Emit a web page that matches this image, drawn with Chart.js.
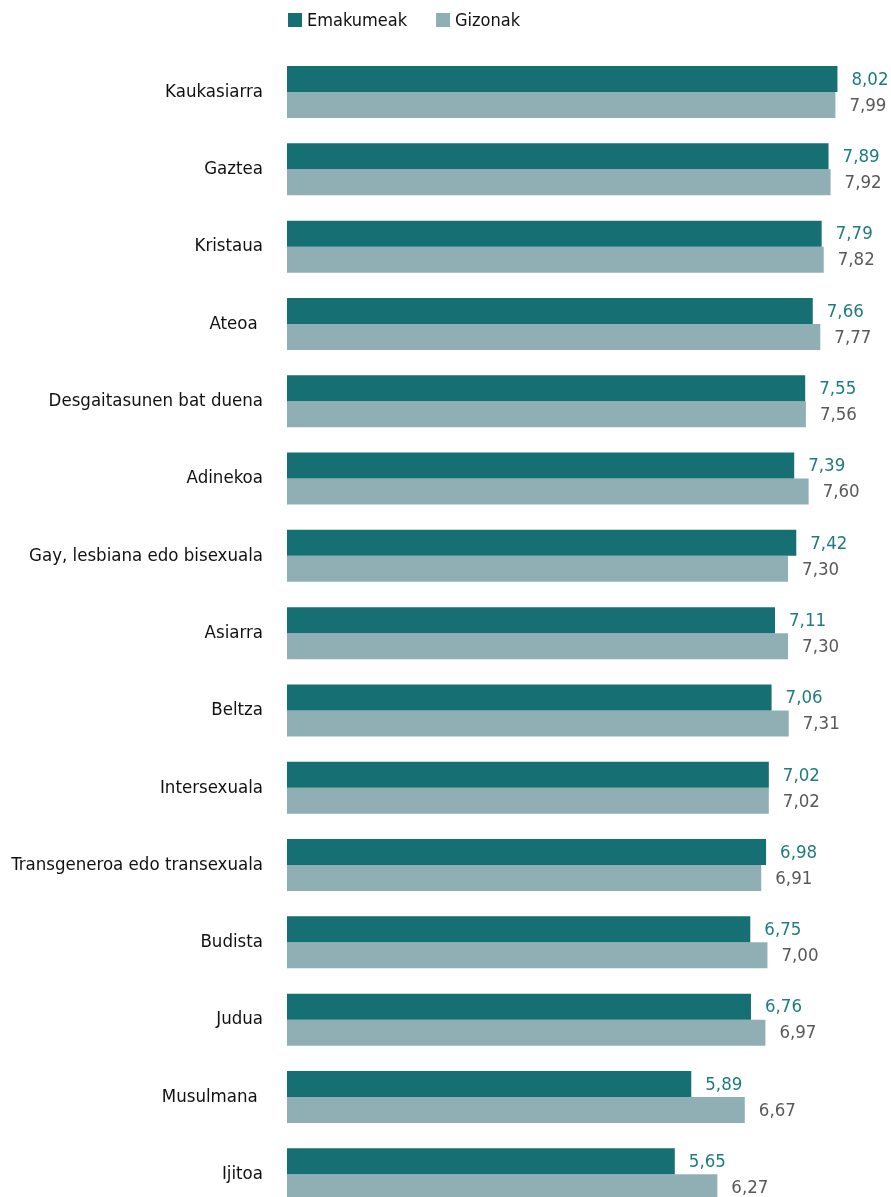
<!DOCTYPE html>
<html><head><meta charset="utf-8">
<script src="https://cdn.jsdelivr.net/npm/chart.js@4.4.0/dist/chart.umd.min.js"></script>
<style>html,body{margin:0;padding:0;background:#fff;overflow:hidden}canvas{display:block}</style>
</head><body>
<canvas id="c" width="891" height="1248"></canvas>
<script>
const categories = ["Kaukasiarra","Gaztea","Kristaua","Ateoa ","Desgaitasunen bat duena","Adinekoa","Gay, lesbiana edo bisexuala","Asiarra","Beltza","Intersexuala","Transgeneroa edo transexuala","Budista","Judua","Musulmana ","Ijitoa"];
const emakumeak = [8.02,7.89,7.79,7.66,7.55,7.39,7.42,7.11,7.06,7.02,6.98,6.75,6.76,5.89,5.65];
const gizonak = [7.99,7.92,7.82,7.77,7.56,7.60,7.30,7.30,7.31,7.02,6.91,7.00,6.97,6.67,6.27];
const seriesNames = ["Emakumeak","Gizonak"];

const FONT = '"Liberation Sans Narrow","DejaVu Sans Condensed","Roboto Condensed","Arial Narrow",sans-serif';
const BAR_COLORS = ['#156f73','#90afb5'];
const LABEL_COLORS = ['#1f7b80','#595959'];

const valueLabels = {
  id:'valueLabels',
  afterDatasetsDraw(chart){
    const ctx = chart.ctx;
    ctx.save();
    ctx.font = '18.5px ' + FONT;
    ctx.textBaseline = 'middle';
    ctx.textAlign = 'left';
    chart.data.datasets.forEach((ds,i)=>{
      const meta = chart.getDatasetMeta(i);
      ctx.fillStyle = LABEL_COLORS[i];
      meta.data.forEach((bar,j)=>{
        ctx.fillText(ds.data[j].toFixed(2).replace('.',','), bar.x + 14, bar.y + 1);
      });
    });
    ctx.restore();
  }
};

const topLegend = {
  id:'topLegend',
  afterDraw(chart){
    const ctx = chart.ctx;
    ctx.save();
    ctx.font = '18px ' + FONT;
    ctx.textBaseline = 'middle';
    ctx.textAlign = 'left';
    let x = chart.chartArea.left + 1;
    const y = 20;
    chart.data.datasets.forEach((ds,i)=>{
      ctx.fillStyle = BAR_COLORS[i];
      ctx.fillRect(x, y - 7, 14, 14);
      x += 19;
      ctx.fillStyle = '#111';
      ctx.fillText(ds.label, x, y + 1);
      x += ctx.measureText(ds.label).width + 29;
    });
    ctx.restore();
  }
};

new Chart(document.getElementById('c'), {
  type:'bar',
  data:{
    labels: categories,
    datasets:[
      {label:seriesNames[0], data:emakumeak, backgroundColor:BAR_COLORS[0], borderWidth:0, categoryPercentage:0.673, barPercentage:1},
      {label:seriesNames[1], data:gizonak, backgroundColor:BAR_COLORS[1], borderWidth:0, categoryPercentage:0.673, barPercentage:1}
    ]
  },
  options:{
    indexAxis:'y',
    responsive:false,
    animation:false,
    layout:{padding:{left:0,right:0,top:53.4,bottom:0}},
    plugins:{
      legend:{display:false},
      tooltip:{enabled:false}
    },
    scales:{
      x:{
        display:false, min:0, max:8.8
      },
      y:{
        ticks:{color:'#111', padding:24, font:{family:FONT, size:18.5}},
        grid:{display:false, drawTicks:false}, border:{display:false},
        afterFit(s){ s.width = 287; }
      }
    }
  },
  plugins:[valueLabels, topLegend]
});
</script>
</body></html>
